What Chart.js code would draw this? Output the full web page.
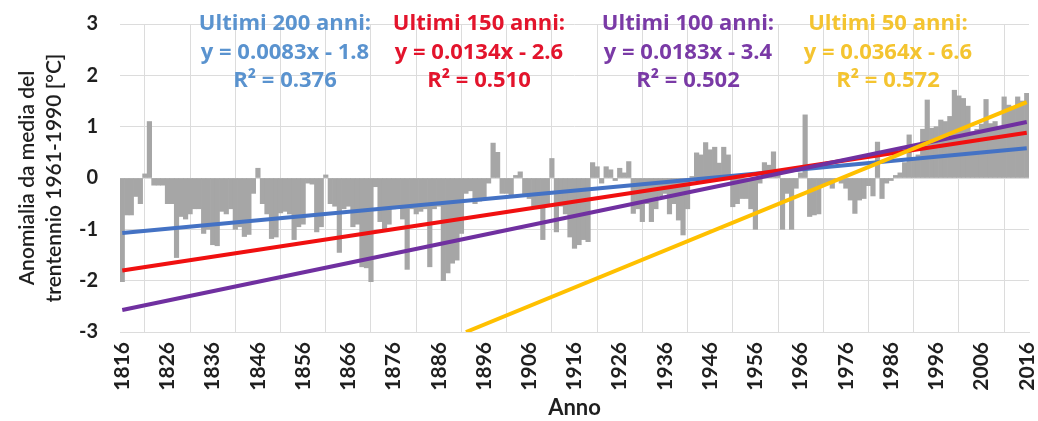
<!DOCTYPE html>
<html><head><meta charset="utf-8">
<script src="https://cdn.jsdelivr.net/npm/chart.js@4/dist/chart.umd.min.js"></script>
<style>html,body{margin:0;padding:0;background:#fff;}#wrap{width:1038px;height:421px;position:relative;}</style>
</head><body><div id="wrap"><canvas id="c" width="1038" height="421"></canvas></div>
<script>
const FIRST_YEAR = 1816, LAST_YEAR = 2016;
const years = Array.from({length: LAST_YEAR - FIRST_YEAR + 1}, (_, i) => String(FIRST_YEAR + i));

const anomalies = [
 -2.02,-0.72,-0.72,-0.36,-0.50, 0.08, 1.10,-0.14,-0.14,-0.14,
 -0.50,-0.50,-1.55,-0.75,-0.80,-0.70,-0.60,-0.60,-1.08,-1.00,
 -1.30,-1.32,-0.65,-0.70,-0.60,-1.00,-0.95,-1.14,-1.10,-0.30,
  0.19,-0.50,-0.70,-1.18,-1.15,-0.68,-0.65,-0.70,-1.20,-0.95,
 -0.90,-0.10,-0.12,-1.05,-0.95, 0.06,-0.50,-0.55,-1.45,-0.60,
 -0.55,-0.95,-0.90,-1.73,-1.75,-2.02,-0.17,-0.85,-1.00,-0.90,
 -0.60,-0.55,-0.80,-1.78,-0.60,-0.70,-0.65,-0.60,-1.73,-0.60,
 -0.55,-2.00,-1.85,-1.66,-1.60,-1.08,-0.30,-0.25,-0.50,-0.45,
 -0.40,-0.10, 0.68, 0.50,-0.30,-0.30,-0.35, 0.05, 0.12,-0.36,
 -0.40,-0.55,-0.60,-1.20,-0.50, 0.38,-1.05,-0.55,-0.70,-1.15,
 -1.37,-1.30,-1.20,-1.24, 0.30, 0.22,-0.10, 0.22, 0.16,-0.05,
  0.19, 0.10, 0.32,-0.69,-0.60,-0.85,-0.50,-0.85,-0.60,-0.35,
 -0.30,-0.70,-0.50,-0.82,-1.11,-0.60, 0.03, 0.49, 0.45, 0.69,
  0.55, 0.60, 0.29, 0.60, 0.45,-0.56,-0.50,-0.40,-0.40,-0.60,
 -1.00,-0.10, 0.30, 0.25, 0.51, 0.10,-1.00,-0.30,-1.00,-0.20,
  0.10, 1.23,-0.75,-0.72,-0.70,-0.15,-0.10,-0.20,-0.05,-0.10,
 -0.20,-0.43,-0.69,-0.43,-0.40,-0.15,-0.35, 0.70,-0.40,-0.10,
 -0.05, 0.05, 0.10, 0.30, 0.84, 0.40, 0.45, 0.95, 1.52, 0.97,
  1.00, 1.13, 1.10, 1.20, 1.71, 1.60, 1.55, 1.40, 0.90, 0.95,
  1.05, 1.53, 1.06, 1.10, 1.00, 1.58, 1.42, 1.39, 1.58, 1.50,
  1.65
];

const trend200 = [{x:'1816', y:-1.07}, {x:'2016', y:0.58}];
const trend150 = [{x:'1816', y:-1.80}, {x:'2016', y:0.88}];
const trend100 = [{x:'1816', y:-2.57}, {x:'2016', y:1.09}];
const trend50  = [{x:'1892', y:-3.00}, {x:'2016', y:1.48}];

const xTickLabels = ['1816','1826','1836','1846','1856','1866','1876','1886','1896','1906','1916','1926','1936','1946','1956','1966','1976','1986','1996','2006','2016'];
const yTicks = [-3,-2,-1,0,1,2,3];

const label200 = ['Ultimi 200 anni:', 'y = 0.0083x - 1.8', 'R² = 0.376'];
const label150 = ['Ultimi 150 anni:', 'y = 0.0134x - 2.6', 'R² = 0.510'];
const label100 = ['Ultimi 100 anni:', 'y = 0.0183x - 3.4', 'R² = 0.502'];
const label50  = ['Ultimi 50 anni:',  'y = 0.0364x - 6.6', 'R² = 0.572'];

const FONT = "'Lato','Open Sans','Liberation Sans',sans-serif";
const ANNO_FONT = "'Open Sans','Lato',sans-serif";
const TXT = '#1f1f1f';

const annotations = [
  {lines: label200, cx: 285, color: '#5a93cf'},
  {lines: label150, cx: 479, color: '#e3142c'},
  {lines: label100, cx: 688, color: '#7a3aa6'},
  {lines: label50,  cx: 888, color: '#f4c430'}
];
const annoPlugin = {
  id: 'anno',
  afterDatasetsDraw(chart) {
    const ctx = chart.ctx;
    ctx.save();
    ctx.font = "bold 22px " + ANNO_FONT;
    ctx.textAlign = 'center';
    ctx.textBaseline = 'middle';
    const ys = [24, 53, 81];
    annotations.forEach(a => {
      ctx.fillStyle = a.color;
      a.lines.forEach((t, i) => ctx.fillText(t, a.cx, ys[i]));
    });
    ctx.restore();
  }
};

new Chart(document.getElementById('c'), {
  data: {
    labels: years,
    datasets: [
      {type:'line', data: trend50,  borderColor:'#ffc000', borderWidth:4, pointRadius:0, order:0},
      {type:'line', data: trend100, borderColor:'#7030a0', borderWidth:4, pointRadius:0, order:1},
      {type:'line', data: trend150, borderColor:'#f01010', borderWidth:4, pointRadius:0, order:2},
      {type:'line', data: trend200, borderColor:'#4472c4', borderWidth:4, pointRadius:0, order:3},
      {type:'bar', data: anomalies, backgroundColor:'#a6a6a6', barPercentage:1, categoryPercentage:1, order:4}
    ]
  },
  options: {
    responsive: false,
    animation: false,
    layout: {padding: {top: 24, right: 9, left: 0, bottom: 0}},
    plugins: {legend: {display:false}, tooltip: {enabled:false}},
    scales: {
      x: {
        type: 'category',
        offset: true,
        grid: {offset: true, color:'#dcdcdc', drawTicks:false},
        border: {display: true, color:'#dcdcdc'},
        ticks: {
          autoSkip: false, minRotation: 90, maxRotation: 90, padding: 10,
          color: TXT, font: {family: FONT, size: 21, weight: 'bold'},
          callback: function(v, i) { const l = years[i]; return xTickLabels.includes(l) ? l : null; }
        },
        title: {display: true, text: 'Anno', color: TXT, font: {family: FONT, size: 22, weight:'bold'}, padding: {top: 0, bottom: 0}},
        afterFit: s => { s.height = 89; s.paddingLeft = 0; s.paddingRight = 0; }
      },
      y: {
        min: -3, max: 3,
        afterBuildTicks: s => { s.ticks = yTicks.map(v => ({value: v})); },
        grid: {color:'#dcdcdc', drawTicks:false},
        border: {display: false},
        ticks: {padding: 22, color: TXT, font: {family: FONT, size: 20, weight:'bold'}},
        title: {display: true, text: ['Anomialia da media del', 'trentennio 1961-1990 [°C]'], color: TXT,
                font: {family: FONT, size: 21, weight:'600', lineHeight: 1.29}, padding: {top: 14, bottom: 0}},
        afterFit: s => { s.width = 120; s.paddingTop = 0; s.paddingBottom = 0; }
      }
    }
  },
  plugins: [annoPlugin]
});
</script></body></html>
